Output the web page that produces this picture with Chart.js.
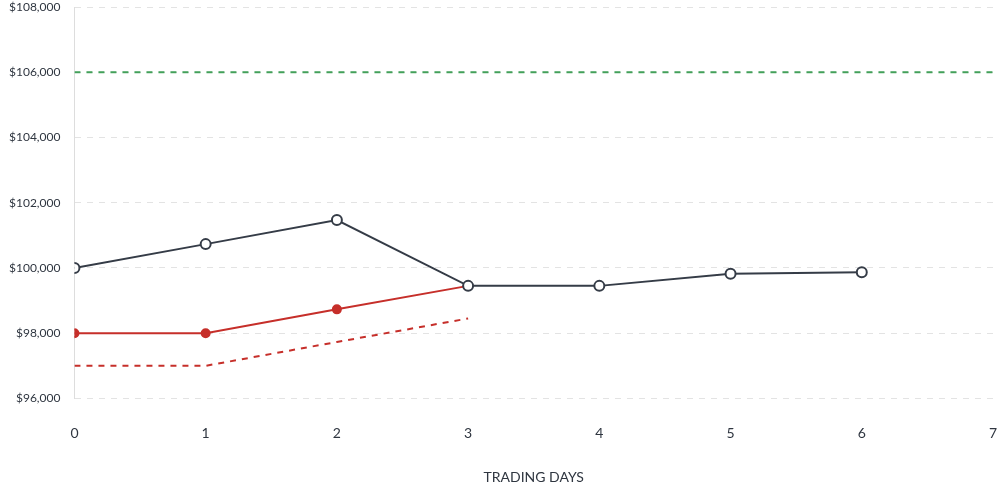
<!DOCTYPE html>
<html>
<head>
<meta charset="utf-8">
<script src="https://cdn.jsdelivr.net/npm/chart.js@4"></script>
<style>
  html, body { margin: 0; padding: 0; background: #fff; overflow: hidden; }
  #wrap { width: 1001px; height: 500px; }
</style>
</head>
<body>
<div id="wrap"><canvas id="chart"></canvas></div>
<script>
// trading days on x, account value on y
const days = [0, 1, 2, 3, 4, 5, 6];
const accountValue = [100000, 100730, 101470, 99450, 99450, 99820, 99870];
const stopLevel = [98000, 98000, 98730, 99450];
const floorLevel = [97000, 97000, 97730, 98450];
const targetLevel = 106000;
const xTicks = [0, 1, 2, 3, 4, 5, 6, 7];
const yTicks = [96000, 98000, 100000, 102000, 104000, 106000, 108000];

const toPoints = (vals) => vals.map((v, i) => ({ x: days[i], y: v }));

const ctx = document.getElementById("chart").getContext("2d");
new Chart(ctx, {
  type: "line",
  data: {
    datasets: [
      {
        label: "Account",
        data: toPoints(accountValue),
        borderColor: "#353c47",
        backgroundColor: "#ffffff",
        borderWidth: 2,
        pointRadius: 5,
        pointBorderWidth: 2,
      },
      {
        label: "Stop",
        data: toPoints(stopLevel),
        borderColor: "#c62f2a",
        backgroundColor: "#c62f2a",
        borderWidth: 2,
        pointRadius: 4,
      },
      {
        label: "Floor",
        data: toPoints(floorLevel),
        borderColor: "#c62f2a",
        borderWidth: 2,
        borderDash: [6, 6],
        pointRadius: 0,
      },
      {
        label: "Target",
        data: [{ x: 0, y: targetLevel }, { x: 7, y: targetLevel }],
        borderColor: "#43a05a",
        borderWidth: 2,
        borderDash: [6, 6],
        pointRadius: 0,
      },
    ],
  },
  options: {
    responsive: true,
    maintainAspectRatio: false,
    animation: false,
    layout: { autoPadding: false, padding: { top: 0, right: 0, left: -5, bottom: 14 } },
    plugins: { legend: { display: false }, tooltip: { enabled: false } },
    scales: {
      x: {
        type: "linear",
        min: 0,
        max: 7,
        afterBuildTicks: (axis) => { axis.ticks = xTicks.map((v) => ({ value: v })); },
        // tick padding also pads the axis ends; keep only room for the "7"
        afterFit: (axis) => { axis.paddingRight = 8; axis.paddingLeft = 0; },
        grid: { display: false, drawTicks: false },
        border: { display: false },
        ticks: { color: "#2f3640", font: { family: "Lato", size: 14 }, padding: 27 },
        title: {
          display: true,
          text: "TRADING DAYS",
          color: "#2f3640",
          font: { family: "Lato", size: 14 },
          padding: { top: 0, bottom: 0 },
        },
      },
      y: {
        min: 96000,
        max: 108000,
        afterBuildTicks: (axis) => { axis.ticks = yTicks.map((v) => ({ value: v })); },
        afterFit: (axis) => { axis.paddingTop = 7; axis.paddingBottom = 0; },
        grid: { color: "#e3e3e3", drawTicks: false, lineWidth: 1 },
        border: { display: true, color: "#dddddd", dash: [6, 6] },
        ticks: {
          color: "#2f3640",
          font: { family: "Lato", size: 12 },
          padding: 14,
          callback: (v) => "$" + v.toLocaleString("en-US"),
        },
      },
    },
  },
});
</script>
</body>
</html>
